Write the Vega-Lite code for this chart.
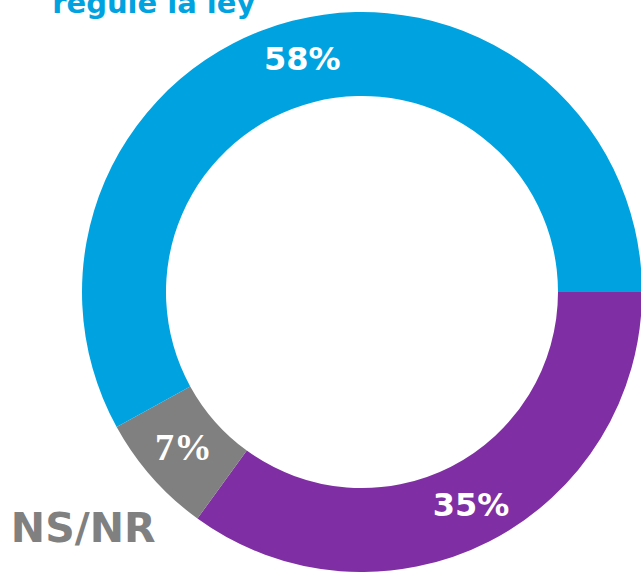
{
  "$schema": "https://vega.github.io/schema/vega-lite/v6.json",
  "width": 641,
  "height": 572,
  "autosize": "none",
  "padding": 0,
  "background": "white",
  "view": {"stroke": null},
  "data": {
    "values": [
      {"cat": "En contra", "value": 35, "label": "35%", "order": 1},
      {"cat": "NS/NR", "value": 7, "label": "7%", "order": 2},
      {"cat": "Regule la ley", "value": 58, "label": "58%", "order": 3}
    ]
  },
  "encoding": {
    "theta": {"field": "value", "type": "quantitative", "stack": true, "scale": {"range": [1.5708, 7.854]}},
    "order": {"field": "order", "type": "quantitative"}
  },
  "layer": [
    {
      "mark": {"type": "arc", "innerRadius": 196, "outerRadius": 280, "x": 362, "y": 292},
      "encoding": {
        "color": {"field": "cat", "type": "nominal", "scale": {"domain": ["En contra", "NS/NR", "Regule la ley"], "range": ["#7F2FA3", "#808080", "#00A3E0"]}, "legend": null}
      }
    },
    {
      "mark": {"type": "text", "radius": 240, "x": 362, "y": 292, "font": "DejaVu Sans", "fontWeight": "bold", "fontSize": 32, "align": "center", "baseline": "middle"},
      "encoding": {
        "text": {"condition": {"test": "datum.cat == 'NS/NR'", "value": ""}, "field": "label"},
        "color": {"value": "white"}
      }
    },
    {
      "mark": {"type": "text", "radius": 238, "x": 362, "y": 292, "font": "Liberation Serif", "fontWeight": "bold", "fontSize": 38, "align": "center", "baseline": "middle"},
      "encoding": {
        "text": {"condition": {"test": "datum.cat != 'NS/NR'", "value": ""}, "field": "label"},
        "color": {"value": "white"}
      }
    },
    {
      "mark": {"type": "text", "radius": 365, "x": 362, "y": 292, "dx": -5, "dy": -3, "font": "DejaVu Sans", "fontWeight": "bold", "fontSize": 41, "align": "center", "baseline": "middle"},
      "encoding": {
        "text": {"condition": {"test": "datum.cat != 'NS/NR'", "value": ""}, "field": "cat"},
        "color": {"value": "#808080"}
      }
    },
    {
      "mark": {"type": "text", "radius": 288, "x": 362, "y": 292, "dx": -35, "font": "DejaVu Sans", "fontWeight": "bold", "fontSize": 29, "align": "right", "baseline": "alphabetic"},
      "encoding": {
        "text": {"condition": {"test": "datum.cat != 'Regule la ley'", "value": ""}, "value": "regule la ley"},
        "color": {"value": "#00A3E0"}
      }
    }
  ]
}
